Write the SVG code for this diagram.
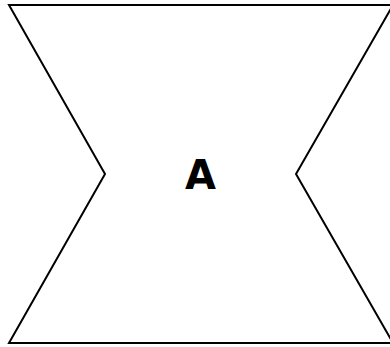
<svg xmlns="http://www.w3.org/2000/svg" width="390" height="347" viewBox="0 0 390 347">
<style>
.shape{fill:#ffffff;stroke:#000000;stroke-width:2;stroke-linejoin:miter}
.label{font-family:"DejaVu Sans",Verdana,sans-serif;font-weight:bold;font-size:40px;fill:#000000}
</style>
<rect width="390" height="347" fill="#ffffff"/>
<g id="node-A">
<polygon class="shape" points="9,5 393,5 296,174 393,343 9,343 105,174"/>
<text class="label" x="200.5" y="189" text-anchor="middle">A</text>
</g>
<g id="connectors"></g>
</svg>
